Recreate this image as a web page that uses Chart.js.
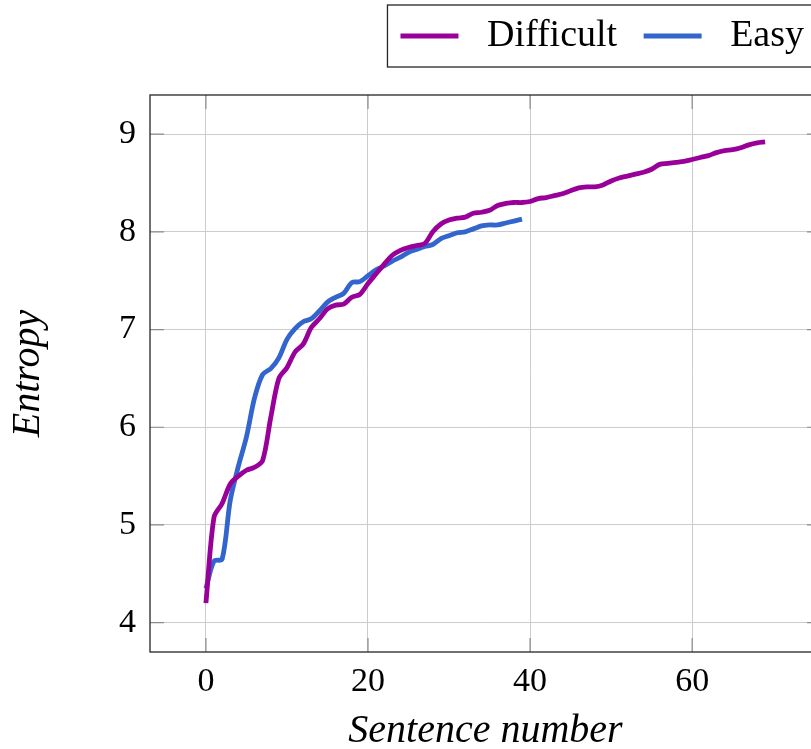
<!DOCTYPE html>
<html>
<head>
<meta charset="utf-8">
<script src="https://cdn.jsdelivr.net/npm/chart.js@4.4.1/dist/chart.umd.min.js"></script>
<style>
  html, body { margin: 0; padding: 0; background: #fff; overflow: hidden; }
  #wrap { width: 821px; height: 749px; }
</style>
</head>
<body>
<div id="wrap"><canvas id="chart" width="821" height="749"></canvas></div>
<script>
// sentence index for every point
const sentenceNumbers = [
  0,1,2,3,4,5,6,7,8,9,10,11,12,13,14,15,16,17,18,19,
  20,21,22,23,24,25,26,27,28,29,30,31,32,33,34,35,36,37,38,39,
  40,41,42,43,44,45,46,47,48,49,50,51,52,53,54,55,56,57,58,59,
  60,61,62,63,64,65,66,67,68,69
];

const difficultEntropy = [
  4.20, 5.08, 5.22, 5.42, 5.50, 5.56, 5.59, 5.66, 6.10, 6.50,
  6.61, 6.77, 6.85, 7.02, 7.11, 7.21, 7.25, 7.26, 7.33, 7.36,
  7.47, 7.57, 7.67, 7.76, 7.81, 7.84, 7.86, 7.88, 8.00, 8.08,
  8.12, 8.14, 8.15, 8.19, 8.20, 8.22, 8.27, 8.29, 8.30, 8.30,
  8.31, 8.34, 8.35, 8.37, 8.39, 8.42, 8.45, 8.46, 8.46, 8.48,
  8.52, 8.55, 8.57, 8.59, 8.61, 8.64, 8.69, 8.70, 8.71, 8.72,
  8.74, 8.76, 8.78, 8.81, 8.83, 8.84, 8.86, 8.89, 8.91, 8.92
];

const easyEntropy = [
  4.35, 4.63, 4.65, 5.25, 5.60, 5.90, 6.30, 6.54, 6.60, 6.71,
  6.90, 7.01, 7.08, 7.11, 7.19, 7.28, 7.33, 7.37, 7.48, 7.49,
  7.55, 7.61, 7.65, 7.70, 7.74, 7.79, 7.82, 7.85, 7.87, 7.93,
  7.96, 7.99, 8.00, 8.03, 8.06, 8.07, 8.07, 8.09, 8.11, 8.13
];

const xTicks = [0, 20, 40, 60];
const yTicks = [4, 5, 6, 7, 8, 9];

const serif = "'Liberation Serif', 'DejaVu Serif', serif";

// frame + small inner tick marks like pgfplots
const framePlugin = {
  id: 'frame',
  afterDatasetsDraw(chart){
    const {ctx, chartArea: a, scales} = chart;
    ctx.save();
    ctx.strokeStyle = '#8c8c8c';
    ctx.lineWidth = 1.2;
    const len = 14;
    xTicks.forEach(v => {
      const px = scales.x.getPixelForValue(v);
      ctx.beginPath();
      ctx.moveTo(px, a.bottom); ctx.lineTo(px, a.bottom - len);
      ctx.moveTo(px, a.top); ctx.lineTo(px, a.top + len);
      ctx.stroke();
    });
    yTicks.forEach(v => {
      const py = scales.y.getPixelForValue(v);
      ctx.beginPath();
      ctx.moveTo(a.left, py); ctx.lineTo(a.left + len, py);
      ctx.moveTo(a.right, py); ctx.lineTo(a.right - len, py);
      ctx.stroke();
    });
    ctx.strokeStyle = '#262626';
    ctx.lineWidth = 1.3;
    ctx.strokeRect(a.left, a.top, a.right - a.left, a.bottom - a.top);
    ctx.restore();
  }
};

// fixed legend height + box around it
const legendBoxPlugin = {
  id: 'legendBox',
  afterInit(chart){
    const lg = chart.legend;
    const fit = lg.fit;
    lg.fit = function(){ fit.call(this); this.height = 95; };
  },
  afterDraw(chart){
    const lg = chart.legend;
    if(!lg || !lg.legendHitBoxes.length) return;
    const hb = lg.legendHitBoxes;
    const cy = hb[0].top + hb[0].height / 2;
    const ctx = chart.ctx;
    ctx.save();
    ctx.strokeStyle = '#262626';
    ctx.lineWidth = 1.3;
    ctx.strokeRect(hb[0].left - 13, cy - 31, lg.right + 10 - (hb[0].left - 13), 62);
    ctx.restore();
  }
};

const ctx = document.getElementById('chart').getContext('2d');
new Chart(ctx, {
  type: 'line',
  data: {
    labels: sentenceNumbers,
    datasets: [
      { label: 'Difficult', data: difficultEntropy, borderColor: '#990099', backgroundColor: '#990099',
        borderWidth: 4.8, pointRadius: 0, tension: 0.3, fill: false },
      { label: 'Easy', data: easyEntropy, borderColor: '#3366cc', backgroundColor: '#3366cc',
        borderWidth: 4.8, pointRadius: 0, tension: 0.3, fill: false }
    ]
  },
  options: {
    responsive: false,
    animation: false,
    layout: { padding: 0 },
    plugins: {
      legend: {
        position: 'top',
        align: 'end',
        labels: {
          usePointStyle: true,
          pointStyle: 'line',
          pointStyleWidth: 58,
          padding: 17,
          color: '#000',
          font: { family: serif, size: 38 },
          // a bit of extra room around the entries, like the pgfplots legend
          generateLabels(chart){
            const items = Chart.defaults.plugins.legend.labels.generateLabels(chart);
            items.forEach((it, i) => { it.text = ' ' + it.text + (i < items.length - 1 ? ' ' : ''); });
            return items;
          }
        }
      },
      tooltip: { enabled: false }
    },
    scales: {
      x: {
        type: 'linear',
        min: -6.9, max: 75.9,
        afterBuildTicks: s => { s.ticks = xTicks.map(v => ({value: v})); },
        afterFit: s => { s.height = 97; },
        grid: { color: '#cccccc', lineWidth: 1, drawTicks: false },
        border: { display: false },
        ticks: { color: '#000', padding: 10, font: { family: serif, size: 34 } },
        title: { display: true, text: 'Sentence number', color: '#000', padding: {top: 0, bottom: -6},
                 font: { family: serif, size: 40, style: 'italic' } }
      },
      y: {
        min: 3.7, max: 9.4,
        afterBuildTicks: s => { s.ticks = yTicks.map(v => ({value: v})); },
        afterFit: s => { s.width = 150; },
        grid: { color: '#cccccc', lineWidth: 1, drawTicks: false },
        border: { display: false },
        ticks: { color: '#000', padding: 14, font: { family: serif, size: 34 } },
        title: { display: true, text: 'Entropy', color: '#000', padding: 4,
                 font: { family: serif, size: 40, style: 'italic' } }
      }
    }
  },
  plugins: [framePlugin, legendBoxPlugin]
});
</script>
</body>
</html>
